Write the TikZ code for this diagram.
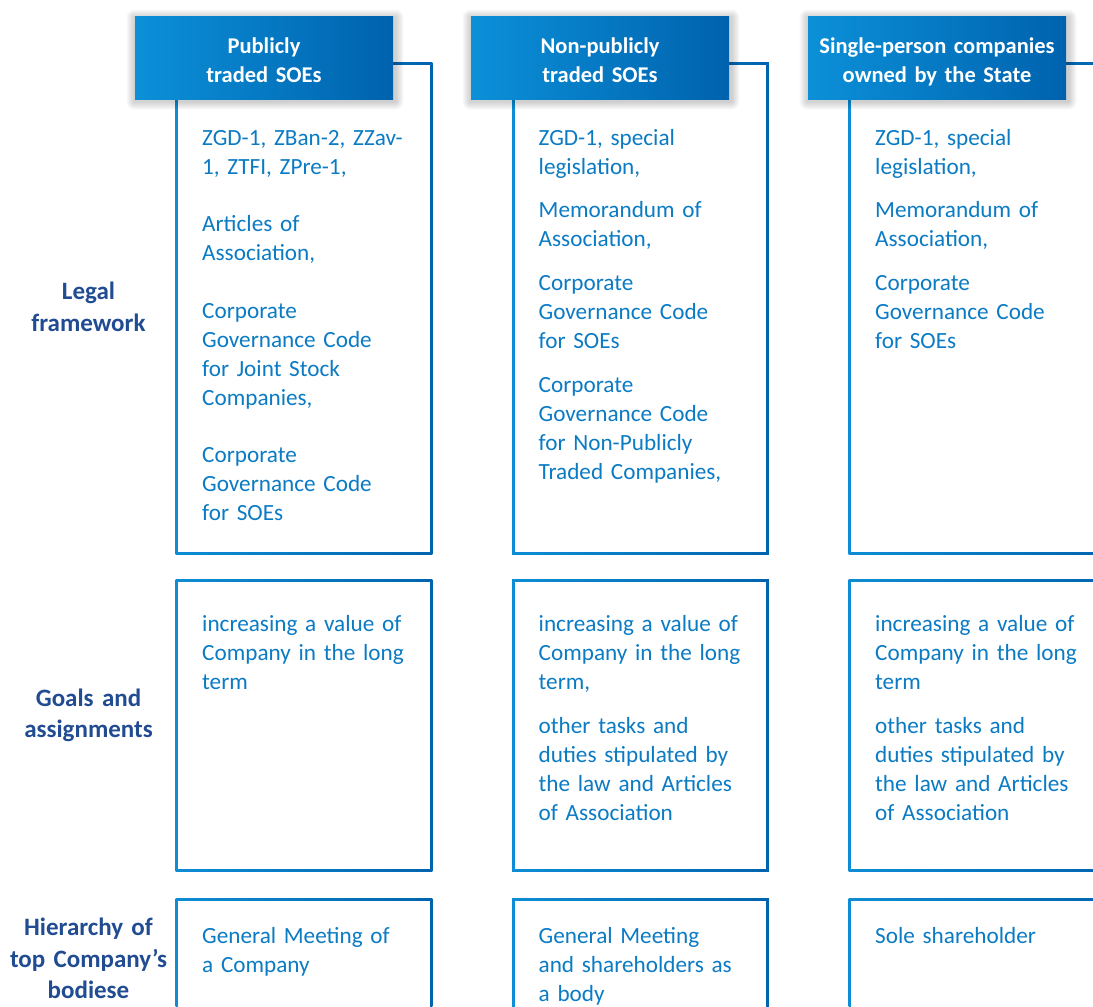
\documentclass[tikz,border=0pt]{standalone}
\usepackage{fontspec}
\setmainfont{Carlito}
\usetikzlibrary{calc}
\definecolor{hdrL}{HTML}{0B90D8}
\definecolor{hdrR}{HTML}{0062AE}
\definecolor{boxL}{HTML}{0D8DD5}
\definecolor{boxR}{HTML}{0064AF}
\definecolor{txtblue}{HTML}{0B7BC4}
\definecolor{lblblue}{HTML}{214C92}
\tikzset{
  cellbox/.style={inner sep=0pt, outer sep=0pt, anchor=north west,
    path picture={
      \shade[left color=boxL, right color=boxR]
        (path picture bounding box.south west) rectangle (path picture bounding box.north east);
      \fill[white]
        ([shift={(2.6pt,2.6pt)}]path picture bounding box.south west) rectangle
        ([shift={(-2.6pt,-2.6pt)}]path picture bounding box.north east);
    }},
  hdr/.style={inner sep=0pt, outer sep=0pt, minimum width=258pt, minimum height=82.5pt,
    left color=hdrL, right color=hdrR},
  hdrtext/.style={anchor=base, inner sep=0pt, text width=258pt, align=center, text=white,
    font=\fontsize{22.5}{29}\selectfont\bfseries},
  celltext/.style={anchor=base west, inner sep=0pt, text width=245pt, align=left,
    text=txtblue, font=\fontsize{23.2}{28.9}\selectfont},
  rowlabel/.style={anchor=base, inner sep=0pt, text width=175pt, align=center,
    text=lblblue, font=\fontsize{25}{31.5}\selectfont\bfseries}
}
\begin{document}
\begin{tikzpicture}[x=1pt,y=-1pt]
\useasboundingbox (0,0) rectangle (1093,1007);
% boxes
\node[cellbox, minimum width=256.6pt, minimum height=492.1pt] (b11) at (175.7,62.2) {};
\node[cellbox, minimum width=256.6pt, minimum height=492.1pt] (b12) at (512.2,62.2) {};
\node[cellbox, minimum width=262.6pt, minimum height=492.1pt] (b13) at (848.7,62.2) {};
\node[cellbox, minimum width=256.6pt, minimum height=291.6pt] (b21) at (175.7,579.7) {};
\node[cellbox, minimum width=256.6pt, minimum height=291.6pt] (b22) at (512.2,579.7) {};
\node[cellbox, minimum width=262.6pt, minimum height=291.6pt] (b23) at (848.7,579.7) {};
\node[cellbox, minimum width=256.6pt, minimum height=132.6pt] (b31) at (175.7,898.7) {};
\node[cellbox, minimum width=256.6pt, minimum height=132.6pt] (b32) at (512.2,898.7) {};
\node[cellbox, minimum width=262.6pt, minimum height=132.6pt] (b33) at (848.7,898.7) {};
% header shadows
\coordinate (c1) at (264,58);
\coordinate (c2) at (600,58);
\coordinate (c3) at (937,58);
\foreach \c in {c1,c2,c3}{
  \foreach \r in {1,...,8}{
    \fill[black, opacity=0.022, rounded corners=\r pt]
      ($(\c)+(-129.5-\r,-40.5-\r)$) rectangle ($(\c)+(131.5+\r,43.5+\r)$);
  }
}
% headers
\node[hdr] (h1) at (c1) {};
\node[hdr] (h2) at (c2) {};
\node[hdr] (h3) at (c3) {};
\node[hdrtext] (ht1) at (264,53.2) {Publicly\\traded SOEs};
\node[hdrtext] (ht2) at (600,53.2) {Non-publicly\\traded SOEs};
\node[hdrtext] (ht3) at (937,53.2) {Single-person companies\\owned by the State};
% row labels
\node[rowlabel] (l1) at (88.5,299.5) {Legal\\framework};
\node[rowlabel] (l2) at (88.5,706) {Goals and\\assignments};
\node[rowlabel] (l3) at (88.5,935.5) {Hierarchy of\\top Company’s\\bodiese};
% column 1 texts
\node[celltext] (t11a) at (202,145.5) {ZGD-1, ZBan-2, ZZav-\\1, ZTFI, ZPre-1,};
\node[celltext] (t11b) at (202,231.9) {Articles of\\Association,};
\node[celltext] (t11c) at (202,318.3) {Corporate\\Governance Code\\for Joint Stock\\Companies,};
\node[celltext] (t11d) at (202,462.3) {Corporate\\Governance Code\\for SOEs};
\node[celltext] (t21a) at (202,631.5) {increasing a value of\\Company in the long\\term};
\node[celltext] (t31a) at (202,943.5) {General Meeting of\\a Company};
% column 2 texts
\node[celltext] (t12a) at (538.5,145.5) {ZGD-1, special\\legislation,};
\node[celltext] (t12b) at (538.5,217.5) {Memorandum of\\Association,};
\node[celltext] (t12c) at (538.5,290.5) {Corporate\\Governance Code\\for SOEs};
\node[celltext] (t12d) at (538.5,392.5) {Corporate\\Governance Code\\for Non-Publicly\\Traded Companies,};
\node[celltext] (t22a) at (538.5,631.5) {increasing a value of\\Company in the long\\term,};
\node[celltext] (t22b) at (538.5,733.5) {other tasks and\\duties stipulated by\\the law and Articles\\of Association};
\node[celltext] (t32a) at (538.5,943.5) {General Meeting\\and shareholders as\\a body};
% column 3 texts
\node[celltext] (t13a) at (875,145.5) {ZGD-1, special\\legislation,};
\node[celltext] (t13b) at (875,217.5) {Memorandum of\\Association,};
\node[celltext] (t13c) at (875,290.5) {Corporate\\Governance Code\\for SOEs};
\node[celltext] (t23a) at (875,631.5) {increasing a value of\\Company in the long\\term};
\node[celltext] (t23b) at (875,733.5) {other tasks and\\duties stipulated by\\the law and Articles\\of Association};
\node[celltext] (t33a) at (875,943.5) {Sole shareholder};
\end{tikzpicture}
\end{document}
